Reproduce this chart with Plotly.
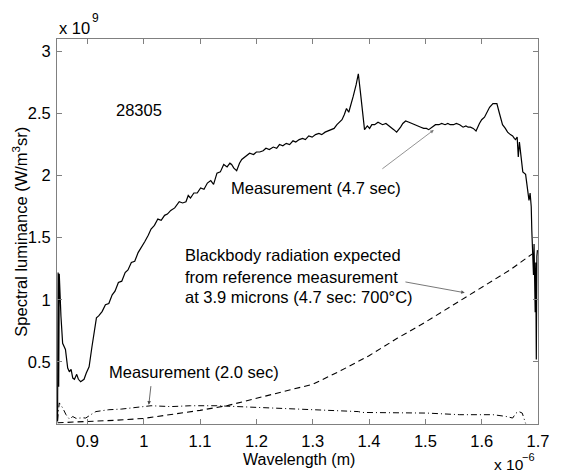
import plotly.graph_objects as go

# x in units of 1e-6 m, y in units of 1e9 W/m^3sr
x_meas47 = [0.847,0.848,0.849,0.850,0.853,0.856,0.861,0.865,0.868,0.871,0.874,0.877,0.881,0.884,0.888,0.894,0.898,0.903,0.908,0.912,0.916,0.920,0.926,0.932,0.938,0.944,0.949,0.955,0.961,0.967,0.972,0.978,0.984,0.990,0.996,1.002,1.008,1.013,1.019,1.025,1.031,1.037,1.042,1.048,1.055,1.063,1.069,1.075,1.079,1.083,1.089,1.095,1.101,1.107,1.113,1.119,1.124,1.130,1.136,1.142,1.148,1.153,1.156,1.160,1.165,1.170,1.174,1.180,1.188,1.195,1.200,1.206,1.212,1.217,1.223,1.230,1.236,1.241,1.247,1.253,1.259,1.265,1.270,1.276,1.282,1.287,1.293,1.299,1.305,1.311,1.316,1.322,1.328,1.334,1.338,1.343,1.348,1.352,1.356,1.360,1.364,1.368,1.372,1.377,1.381,1.385,1.390,1.392,1.397,1.401,1.405,1.410,1.416,1.420,1.424,1.430,1.436,1.440,1.444,1.449,1.453,1.456,1.460,1.465,1.471,1.477,1.482,1.486,1.492,1.497,1.502,1.506,1.512,1.518,1.524,1.529,1.535,1.540,1.544,1.550,1.555,1.561,1.567,1.572,1.576,1.580,1.585,1.590,1.596,1.600,1.605,1.610,1.614,1.620,1.627,1.631,1.634,1.637,1.642,1.646,1.651,1.655,1.658,1.660,1.663,1.665,1.667,1.670,1.673,1.678,1.681,1.684,1.686,1.688,1.689,1.690,1.692,1.693,1.695,1.696,1.697,1.698,1.699]
y_meas47 = [0.02,1.22,0.30,1.21,0.87,0.65,0.60,0.45,0.42,0.44,0.37,0.36,0.40,0.36,0.34,0.36,0.41,0.46,0.62,0.76,0.855,0.87,0.905,0.96,0.97,1.04,1.07,1.14,1.15,1.22,1.24,1.30,1.31,1.38,1.42,1.47,1.52,1.57,1.60,1.65,1.64,1.68,1.69,1.72,1.74,1.79,1.78,1.79,1.84,1.82,1.86,1.86,1.90,1.89,1.94,1.96,1.93,2.02,2.03,2.09,2.07,2.10,2.09,2.06,2.04,2.10,2.13,2.15,2.18,2.17,2.19,2.19,2.20,2.22,2.21,2.23,2.22,2.25,2.24,2.26,2.25,2.28,2.27,2.29,2.30,2.29,2.32,2.31,2.33,2.34,2.33,2.35,2.36,2.37,2.38,2.41,2.43,2.45,2.49,2.54,2.51,2.57,2.64,2.73,2.82,2.66,2.45,2.37,2.40,2.38,2.41,2.41,2.43,2.42,2.41,2.42,2.40,2.39,2.37,2.35,2.37,2.39,2.42,2.44,2.43,2.42,2.41,2.40,2.39,2.38,2.38,2.37,2.39,2.41,2.41,2.42,2.41,2.42,2.41,2.41,2.42,2.41,2.39,2.40,2.39,2.39,2.38,2.36,2.42,2.45,2.47,2.51,2.55,2.58,2.58,2.51,2.46,2.41,2.38,2.35,2.33,2.32,2.30,2.29,2.31,2.15,2.27,2.15,2.03,2.01,1.91,1.80,1.86,1.75,1.56,1.40,1.20,1.45,0.90,1.30,0.52,1.35,1.40]

x_meas20 = [0.847,0.850,0.856,0.862,0.868,0.874,0.880,0.885,0.891,0.897,0.902,0.906,0.915,0.938,0.960,0.979,1.013,1.048,1.083,1.130,1.165,1.223,1.282,1.340,1.381,1.387,1.445,1.503,1.561,1.620,1.643,1.655,1.661,1.666,1.672,1.675,1.678]
y_meas20 = [0.03,0.17,0.13,0.075,0.04,0.06,0.045,0.05,0.05,0.048,0.06,0.075,0.10,0.115,0.12,0.13,0.147,0.14,0.147,0.147,0.14,0.13,0.12,0.11,0.10,0.093,0.088,0.088,0.075,0.075,0.061,0.048,0.088,0.10,0.088,0.048,0.005]

x_blackbody = [0.847,0.9,0.95,1.0,1.05,1.1,1.15,1.2,1.25,1.3,1.35,1.4,1.45,1.5,1.55,1.6,1.65,1.69]
y_blackbody = [0.01,0.02,0.03,0.045,0.075,0.11,0.15,0.205,0.265,0.32,0.43,0.55,0.69,0.82,0.96,1.10,1.24,1.37]

x_ticks = [0.9,1.0,1.1,1.2,1.3,1.4,1.5,1.6,1.7]
x_ticklabels = ["0.9","1","1.1","1.2","1.3","1.4","1.5","1.6","1.7"]
y_ticks = [0.5,1.0,1.5,2.0,2.5,3.0]
y_ticklabels = ["0.5","1","1.5","2","2.5","3"]

FONT = "Liberation Sans, Arial, Helvetica, sans-serif"
FS = 16.5
AX = "#808080"

fig = go.Figure()
fig.add_trace(go.Scatter(x=x_blackbody, y=y_blackbody, mode="lines",
                         line=dict(color="black", width=1.1, dash="6px,4px")))
fig.add_trace(go.Scatter(x=x_meas20, y=y_meas20, mode="lines",
                         line=dict(color="black", width=1.0, dash="6px,3px,1px,3px")))
fig.add_trace(go.Scatter(x=x_meas47, y=y_meas47, mode="lines",
                         line=dict(color="black", width=1.2)))

axis_common = dict(showline=True, linecolor=AX, linewidth=1, mirror="ticks",
                   ticks="inside", ticklen=5, tickcolor=AX, tickwidth=1,
                   showgrid=False, zeroline=False,
                   tickfont=dict(family=FONT, size=FS, color="black"))

fig.update_xaxes(range=[0.846, 1.7], tickvals=x_ticks, ticktext=x_ticklabels,
                 ticklabelstandoff=2, **axis_common)
fig.update_yaxes(range=[0, 3.1], tickvals=y_ticks, ticktext=y_ticklabels,
                 ticklabelstandoff=2, **axis_common)

anns = []
def txt(text, x, y, xanchor="left", size=FS, xref="x", yref="y"):
    anns.append(dict(text=text, x=x, y=y, xref=xref, yref=yref, xanchor=xanchor,
                     yanchor="middle", showarrow=False,
                     font=dict(family=FONT, size=size, color="black")))

def arrow(x0, y0, x1, y1, color):
    anns.append(dict(text="", x=x1, y=y1, ax=x0, ay=y0, xref="x", yref="y",
                     axref="x", ayref="y", showarrow=True, arrowhead=2,
                     arrowsize=0.9, arrowwidth=0.8, arrowcolor=color, standoff=0))

txt("28305", 0.992, 2.53, xanchor="center")
txt("Measurement (4.7 sec)", 1.151, 1.90)
txt("Measurement (2.0 sec)", 0.934, 0.421)
txt("Blackbody radiation expected", 1.069, 1.36)
txt("from reference measurement", 1.069, 1.185)
txt("at 3.9 microns (4.7 sec: 700°C)", 1.069, 1.02)
arrow(1.421, 2.046, 1.515, 2.368, "#777777")
arrow(1.013, 0.317, 1.009, 0.155, "#444444")
arrow(1.462, 1.146, 1.570, 1.057, "#555555")

W, H = 561, 474
L, R, T, B = 57, 14, 39, 50
pw, ph = W - L - R, H - T - B
def px(xp):
    return (xp - L) / pw
def py(yp):
    return (H - B - yp) / ph

txt("x 10", px(57), py(28), xref="paper", yref="paper")
txt("9", px(91), py(18), size=12, xref="paper", yref="paper")
txt("x 10", px(500), py(464.5), size=15.5, xref="paper", yref="paper")
txt("\u22126", px(529), py(457), size=11, xref="paper", yref="paper")
txt("Wavelength (m)", px(303.5), py(459.5), size=16, xanchor="center", xref="paper", yref="paper")
anns.append(dict(text="Spectral luminance (W/m<sup>3</sup>sr)", x=px(18.5), y=py(231.5),
                 xref="paper", yref="paper", xanchor="center", yanchor="middle",
                 textangle=-90, showarrow=False,
                 font=dict(family=FONT, size=FS, color="black")))

fig.update_layout(width=W, height=H, margin=dict(l=L, r=R, t=T, b=B, pad=0),
                  paper_bgcolor="white", plot_bgcolor="white",
                  showlegend=False, annotations=anns)

fig.write_html("out.html", config={"displayModeBar": False},
               post_script="document.body.style.margin='0';document.body.style.padding='0';")
